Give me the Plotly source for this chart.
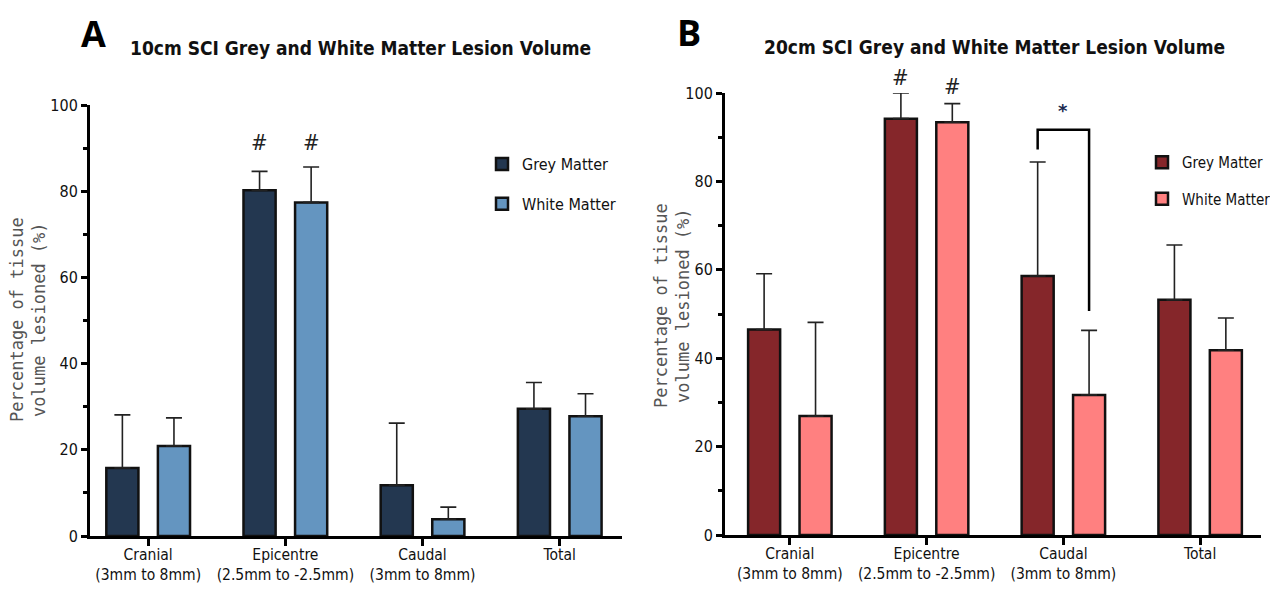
import plotly.graph_objects as go

# The page body has an 8px margin, so the figure is drawn 8px in from the window edge.
WIN_W, WIN_H, PAGE_PAD = 1278, 601, 8
W, H = WIN_W - 2 * PAGE_PAD, WIN_H - 2 * PAGE_PAD

categories = ["Cranial<br>(3mm to 8mm)", "Epicentre<br>(2.5mm to -2.5mm)",
              "Caudal<br>(3mm to 8mm)", "Total"]

# Panel A: 10cm SCI
a_grey = [15.8, 80.2, 11.8, 29.5]
a_grey_err = [28.1, 84.6, 26.2, 35.6]
a_white = [20.9, 77.4, 3.9, 27.8]
a_white_err = [27.4, 85.6, 6.7, 33.0]
a_hash_y = [91.2, 91.2]

# Panel B: 20cm SCI
b_grey = [46.5, 94.2, 58.6, 53.2]
b_grey_err = [59.1, 100.0, 84.4, 65.6]
b_white = [26.9, 93.4, 31.7, 41.8]
b_white_err = [48.1, 97.6, 46.3, 49.1]
b_hash_y = [103.6, 101.4]
b_bracket = [87.2, 91.7, 50.7]   # left leg bottom, top, right leg bottom
b_star_y = 96.0

Y_MAX = 100
series_names = ["Grey Matter", "White Matter"]
colors_a = ["#233750", "#6495c0"]
colors_b = ["#85262a", "#ff8080"]

NARROW = "DejaVu Sans Condensed, Liberation Sans Narrow, sans-serif"
YTITLE = "Percentage of tissue<br>volume lesioned (%)"

fig = go.Figure()

def add_bars(vals, errs, name, color, xa, ya, legend, group):
    fig.add_trace(go.Bar(
        x=categories, y=vals, name=name, xaxis=xa, yaxis=ya, legend=legend,
        legendgroup=group,
        marker=dict(color=color, line=dict(color="#111111", width=2.5)),
        error_y=dict(type="data", symmetric=False,
                     array=[e - v for e, v in zip(errs, vals)],
                     arrayminus=[0] * len(vals),
                     color="#222222", thickness=1.6, width=8),
        cliponaxis=False,
    ))

add_bars(a_grey, a_grey_err, series_names[0], colors_a[0], "x", "y", "legend", "ag")
add_bars(a_white, a_white_err, series_names[1], colors_a[1], "x", "y", "legend", "aw")
add_bars(b_grey, b_grey_err, series_names[0], colors_b[0], "x2", "y2", "legend2", "bg")
add_bars(b_white, b_white_err, series_names[1], colors_b[1], "x2", "y2", "legend2", "bw")

def px_x(p):
    return (p - PAGE_PAD) / W

def px_y(p):
    return 1 - (p - PAGE_PAD) / H

yaxis_common = dict(
    range=[0, Y_MAX], tickvals=[0, 20, 40, 60, 80, 100], automargin=False,
    showline=True, linecolor="#000000", linewidth=3,
    ticks="outside", ticklen=6, tickwidth=2.5, tickcolor="#000000",
    minor=dict(tickvals=[10, 30, 50, 70, 90], ticks="outside", ticklen=4,
               tickwidth=2.5, tickcolor="#000000"),
    showgrid=False, zeroline=False,
    tickfont=dict(family=NARROW, size=16, color="#111111"),
)
xaxis_common = dict(
    automargin=False,
    showline=True, linecolor="#000000", linewidth=3,
    ticks="outside", ticklen=7, tickwidth=2.5, tickcolor="#000000",
    ticklabelstandoff=-5,
    showgrid=False, zeroline=False,
    tickfont=dict(family=NARROW, size=15.5, color="#111111"),
)

fig.update_layout(
    width=W, height=H, margin=dict(l=0, r=0, t=0, b=0, autoexpand=False),
    paper_bgcolor="white", plot_bgcolor="white",
    barmode="group", bargap=0.248, bargroupgap=0.377,
    showlegend=True,
    xaxis=dict(domain=[px_x(90), px_x(622)], anchor="y",
               range=[-0.424, 3.454], **xaxis_common),
    yaxis=dict(domain=[px_y(536), px_y(105)], anchor="x", **yaxis_common),
    xaxis2=dict(domain=[px_x(725), px_x(1261)], anchor="y2",
                range=[-0.474, 3.445], **xaxis_common),
    yaxis2=dict(domain=[px_y(535), px_y(93)], anchor="x2", **yaxis_common),
    legend=dict(x=px_x(482), y=px_y(147), xanchor="left", yanchor="top",
                font=dict(family=NARROW, size=16, color="#111111"),
                tracegroupgap=16, bgcolor="rgba(0,0,0,0)"),
    legend2=dict(x=px_x(1142), y=px_y(146), xanchor="left", yanchor="top",
                 font=dict(family=NARROW, size=15, color="#111111"),
                 tracegroupgap=14, bgcolor="rgba(0,0,0,0)"),
)

# y-axis titles
YT_FONT = dict(family="DejaVu Sans Mono, DejaVu Sans, monospace", size=17, color="#555555")
fig.add_annotation(text=YTITLE, x=px_x(28), y=px_y(320), xref="paper", yref="paper",
                   textangle=-90, xanchor="center", yanchor="middle", showarrow=False,
                   font=YT_FONT)
fig.add_annotation(text=YTITLE, x=px_x(672), y=px_y(306), xref="paper", yref="paper",
                   textangle=-90, xanchor="center", yanchor="middle", showarrow=False,
                   font=YT_FONT)

# Panel titles and labels
TITLE_FONT = dict(family=NARROW, size=19, color="#111111")
fig.add_annotation(text="<b>10cm SCI Grey and White Matter Lesion Volume</b>",
                   x=px_x(360), y=px_y(48), xref="paper", yref="paper",
                   xanchor="center", yanchor="middle", showarrow=False, font=TITLE_FONT)
fig.add_annotation(text="<b>20cm SCI Grey and White Matter Lesion Volume</b>",
                   x=px_x(994), y=px_y(47), xref="paper", yref="paper",
                   xanchor="center", yanchor="middle", showarrow=False, font=TITLE_FONT)
LETTER_FONT = dict(family="Open Sans, Arial, sans-serif", size=36, color="#000000")
fig.add_annotation(text="<b>A</b>", x=px_x(93), y=px_y(34), xref="paper", yref="paper",
                   xanchor="center", yanchor="middle", showarrow=False, font=LETTER_FONT)
fig.add_annotation(text="<b>B</b>", x=px_x(689), y=px_y(33), xref="paper", yref="paper",
                   xanchor="center", yanchor="middle", showarrow=False, font=LETTER_FONT)

# Significance markers (y given in axis-domain fraction so values above the range still show)
off = 0.188
HASH_FONT = dict(family=NARROW, size=22, color="#222222")
for i, yv in enumerate(a_hash_y):
    fig.add_annotation(text="#", x=1 + (2 * i - 1) * off, y=yv / Y_MAX, xref="x", yref="y domain",
                       xanchor="center", yanchor="middle", showarrow=False, font=HASH_FONT)
for i, yv in enumerate(b_hash_y):
    fig.add_annotation(text="#", x=1 + (2 * i - 1) * off, y=yv / Y_MAX, xref="x2", yref="y2 domain",
                       xanchor="center", yanchor="middle", showarrow=False, font=HASH_FONT)

# bracket between caudal bars (panel B)
fig.add_shape(type="path", xref="x2", yref="y2",
              path=(f"M {2 - off},{b_bracket[0]} L {2 - off},{b_bracket[1]} "
                    f"L {2 + off},{b_bracket[1]} L {2 + off},{b_bracket[2]}"),
              line=dict(color="#000000", width=2.5))
fig.add_annotation(text="<b>*</b>", x=2, y=b_star_y / Y_MAX, xref="x2", yref="y2 domain",
                   xanchor="center", yanchor="middle", showarrow=False,
                   font=dict(family="DejaVu Sans, sans-serif", size=18, color="#1a2a50"))

fig.write_html("out.html")
